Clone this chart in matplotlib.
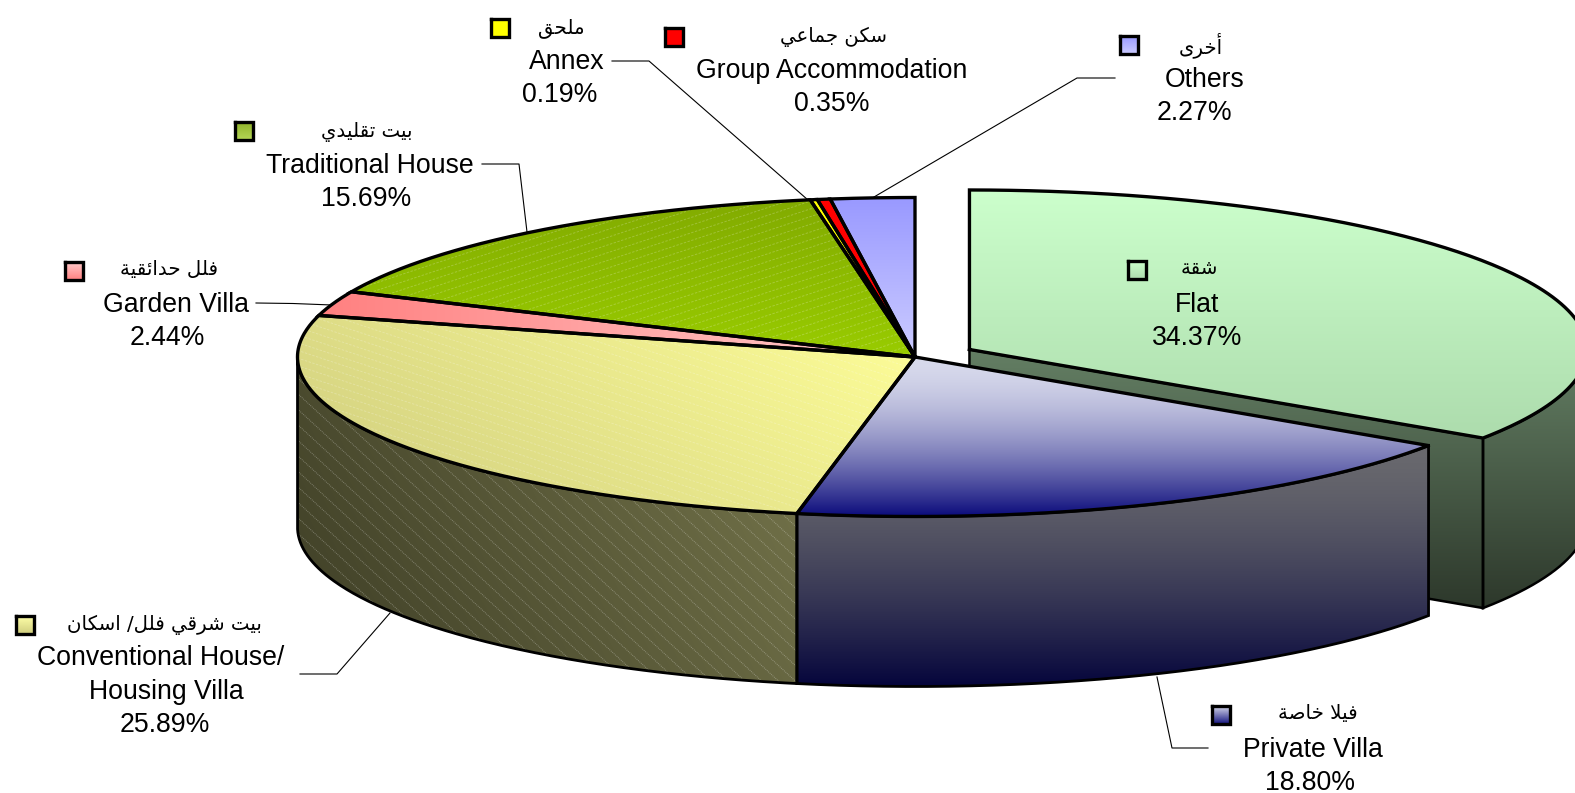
import numpy as np
import matplotlib
matplotlib.use("Agg")
import matplotlib.pyplot as plt
from matplotlib.path import Path
from matplotlib.collections import LineCollection
from matplotlib.colors import to_rgb

# data, clockwise from 12 o'clock
names_en = ["Flat", "Private Villa", "Conventional House/\nHousing Villa", "Garden Villa",
            "Traditional House", "Annex", "Group Accommodation", "Others"]
names_ar = ["شقة", "فيلا خاصة", "بيت شرقي فلل/ اسكان", "فلل حدائقية",
            "بيت تقليدي", "ملحق", "سكن جماعي", "أخرى"]
shares = [34.37, 18.80, 25.89, 2.44, 15.69, 0.19, 0.35, 2.27]

# styles
top_cols = [("#CCFFCC", "#ADDCAD"), ("#D8DAEC", "#0C0C7C"), ("#CFCD7E", "#FFFF99"), ("#FF8080", "#FFCCCC"),
            ("#82AB00", "#99CC00"), ("#FFFF00", "#FFFF00"), ("#FF0000", "#FF0000"), ("#9999FF", "#CCCCFF")]
side_cols = {0: ("#647F64", "#2D382B"), 1: ("#69696E", "#05053C"), 2: ("#3E3E26", "#76764C")}
key_cols = [("#CCFFCC", "#ADDCAD"), ("#D8DAEC", "#14147F"), ("#FFFFA8", "#CFCD7E"), ("#FFCCCC", "#FF8080"),
            ("#8FB32A", "#B5D656"), ("#FFFF00", "#FFFF00"), ("#FF0000", "#FF0000"), ("#9999FF", "#CCCCFF")]

# label placement, pixels of the picture
key_pos = [(1137, 270), (1221, 715), (25, 625), (74, 271), (244, 131), (500, 28), (674, 37), (1129, 45)]
ar_pos = [(1199, 269), (1318, 714), (164, 625), (169, 270), (367, 132), (561, 28), (834, 37), (1201, 45)]
en_pos = [(1197, 305), (1313, 750), (163, 675), (176, 305), (370, 166), (567, 62), (832, 71), (1205, 80)]
pct_pos = [(1197, 338), (1310, 783), (165, 725), (167, 338), (366, 199), (560, 95), (832, 104), (1194, 113)]
leaders = [None,
           [(1208, 748), (1172, 748), (1157, 677)],
           [(300, 674), (337, 674), (390, 613)],
           [(256, 303), (293, 303.5), (332, 305)],
           [(482, 164), (519, 164), (527, 232)],
           [(612, 61), (649, 61), (808, 200)],
           None,
           [(1115, 78), (1077, 78), (874, 197)]]

CX, CY = 915, 357
RX, RY = 617.5, 159.5
DEPTH = 170
EXPLODE = 0.1

# arabic has to be joined by hand, matplotlib does not shape it
FORMS = {"ا": 0xFE8D, "أ": 0xFE83, "ب": 0xFE8F, "ت": 0xFE95, "ة": 0xFE93, "ج": 0xFE9D, "ح": 0xFEA1,
         "خ": 0xFEA5, "د": 0xFEA9, "ر": 0xFEAD, "س": 0xFEB1, "ش": 0xFEB5, "ص": 0xFEB9, "ع": 0xFEC9,
         "ف": 0xFED1, "ق": 0xFED5, "ك": 0xFED9, "ل": 0xFEDD, "م": 0xFEE1, "ن": 0xFEE5, "ي": 0xFEF1,
         "ى": 0xFEEF, "ئ": 0xFE89, "\ufefb": 0xFEFB}
RIGHT_ONLY = set("اأدرةى\ufefb")


def shape_ar(s):
    s = s.replace("لا", "\ufefb")
    out = []
    for i, c in enumerate(s):
        if c not in FORMS:
            out.append(c)
            continue
        prev_joins = i > 0 and s[i - 1] in FORMS and s[i - 1] not in RIGHT_ONLY
        next_joins = i + 1 < len(s) and s[i + 1] in FORMS and c not in RIGHT_ONLY
        form = (1 if prev_joins else 0) + (2 if next_joins else 0)
        out.append(chr(FORMS[c] + form))
    return "".join(reversed(out))


def arc(cx, cy, a0, a1):
    a = np.radians(np.linspace(a0, a1, 200))
    return np.column_stack([cx + RX * np.sin(a), cy - RY * np.cos(a)])


def to_path(pts):
    pts = np.vstack([pts, pts[:1]])
    return Path(pts, closed=True)


def gradient(ax, pts, cols, direction=(0, 1), z=1, gamma=1.0):
    # fill polygon pts with a two colour linear gradient over its bounding box
    x0, y0 = pts.min(axis=0)
    x1, y1 = pts.max(axis=0)
    gx, gy = np.meshgrid(np.linspace(0, 1, 300), np.linspace(0, 1, 300))
    t = gx * direction[0] + gy * direction[1]
    t = ((t - t.min()) / max(t.max() - t.min(), 1e-9)) ** gamma
    c0, c1 = np.array(to_rgb(cols[0])), np.array(to_rgb(cols[1]))
    img = c0 + (c1 - c0) * t[..., None]
    im = ax.imshow(img, extent=(x0, x1, y1, y0), aspect="auto", zorder=z, interpolation="bilinear")
    im.set_clip_path(to_path(pts), ax.transData)


def outline(ax, pts, lw=2.4, z=1.2):
    p = np.vstack([pts, pts[:1]])
    ax.plot(p[:, 0], p[:, 1], color="black", lw=lw, zorder=z, solid_joinstyle="miter")


def hatch(ax, pts, slope, step, z, **kw):
    # thin pale lines over the textured slices
    x0, y0 = pts.min(axis=0)
    x1, y1 = pts.max(axis=0)
    w = x1 - x0
    offs = np.arange(y0 - abs(slope) * w - step, y1 + abs(slope) * w + step, step)
    segs = [[(x0, o), (x1, o + slope * w)] for o in offs]
    lc = LineCollection(segs, zorder=z, **kw)
    ax.add_collection(lc)
    lc.set_clip_path(to_path(pts), ax.transData)


fig = plt.figure(figsize=(15.75, 7.93), dpi=100)
ax = fig.add_axes([0, 0, 1, 1])

edges = np.concatenate([[0], np.cumsum(shares)]) / sum(shares) * 360
# the tilted pie bends the angles a little on its left half
edges = np.where(edges > 180, edges - np.sin(np.radians(2 * edges)), edges)

# flat is pulled out of the pie along its middle angle
mid = np.radians((edges[0] + edges[1]) / 2)
fx = CX + EXPLODE * RX * np.sin(mid)
fy = CY - EXPLODE * RY * np.cos(mid)

# flat, cut face first, everything else goes over it
a1 = edges[1]
tip = arc(fx, fy, a1, a1)[0]
cut = np.array([(fx, fy), tip, tip + (0, DEPTH), (fx, fy + DEPTH)])
gradient(ax, cut, side_cols[0], z=1)
outline(ax, cut, lw=1.8, z=1.1)
rim = arc(fx, fy, 90, a1)
side = np.vstack([rim, rim[::-1] + (0, DEPTH)])
gradient(ax, side, side_cols[0], z=1)
outline(ax, side, lw=1.8, z=1.1)
face = np.vstack([[(fx, fy)], arc(fx, fy, 0, a1)])
gradient(ax, face, top_cols[0], z=1.2)
outline(ax, face, z=1.3)

# rest of the pie
for i in range(1, len(shares)):
    a0, a1 = edges[i], edges[i + 1]
    if i in side_cols:
        rim = arc(CX, CY, a0, min(a1, 270))
        side = np.vstack([rim, rim[::-1] + (0, DEPTH)])
        if i == 2:
            gradient(ax, side, side_cols[i], direction=(0.75, -0.25), z=2)
            hatch(ax, side, 0.92, 15.5, 2.1, colors="white", linewidths=0.7, alpha=0.3,
                  linestyles=(0, (1, 1)))
        else:
            gradient(ax, side, side_cols[i], z=2, gamma=1.5)
        outline(ax, side, lw=2.0, z=2.2)
    face = np.vstack([[(CX, CY)], arc(CX, CY, a0, a1)])
    direction = {2: (0.7, -0.3), 3: (1, 0)}.get(i, (0, 1))
    gradient(ax, face, top_cols[i], direction=direction, z=3, gamma=1.7 if i == 1 else 1.0)
    if i == 2:
        hatch(ax, face, 0.33, 7.7, 3.1, colors="white", linewidths=0.7, alpha=0.22,
              linestyles=(0, (2.5, 1.5)))
    if i == 4:
        hatch(ax, face, -0.33, 7.7, 3.1, colors="white", linewidths=0.7, alpha=0.22,
              linestyles=(0, (2.5, 1.5)))
    outline(ax, face, z=3.2)

# labels
for i in range(len(shares)):
    kx, ky = key_pos[i]
    key = np.array([(kx - 9, ky - 9), (kx + 9, ky - 9), (kx + 9, ky + 9), (kx - 9, ky + 9)])
    gradient(ax, key, key_cols[i], z=5)
    outline(ax, key, z=5.1)
    ax.text(ar_pos[i][0], ar_pos[i][1], shape_ar(names_ar[i]), ha="center", va="center",
            family="DejaVu Sans", fontsize=14.2, color="black", zorder=6)
    lines = names_en[i].split("\n")
    for j, line in enumerate(lines):
        ax.text(en_pos[i][0] + (-2 if j == 0 and len(lines) > 1 else 3 if j else 0),
                en_pos[i][1] + (j * 34 - (17 if len(lines) > 1 else 0)), line,
                ha="center", va="center", family="Liberation Sans", fontsize=19.2, color="black", zorder=6)
    ax.text(pct_pos[i][0], pct_pos[i][1], f"{shares[i]:.2f}%", ha="center", va="center",
            family="Liberation Sans", fontsize=19.2, color="black", zorder=6)
    if leaders[i]:
        xs, ys = zip(*leaders[i])
        ax.plot(xs, ys, color="black", lw=0.8, zorder=4)

ax.set_xlim(0, 1575)
ax.set_ylim(793, 0)
ax.axis("off")
fig.savefig("out.png", dpi=100, facecolor="white")
